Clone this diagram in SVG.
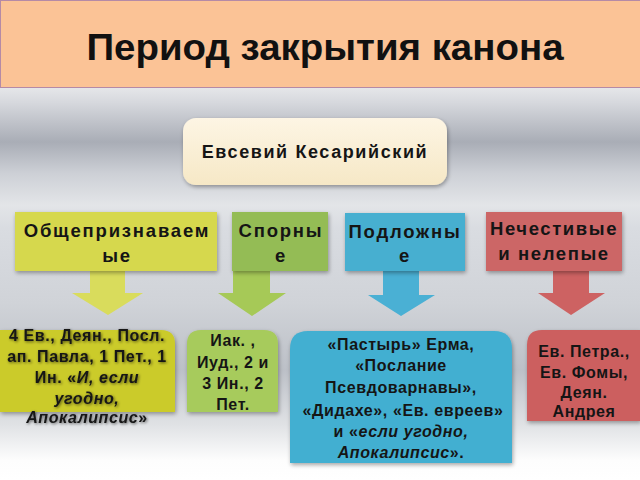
<svg xmlns="http://www.w3.org/2000/svg" width="640" height="480" viewBox="0 0 640 480">
<defs>
<linearGradient id="bg" x1="0" y1="87" x2="0" y2="480" gradientUnits="userSpaceOnUse">
<stop offset="0" stop-color="#e6e7ea"/>
<stop offset="0.04" stop-color="#d6d8dd"/>
<stop offset="0.14" stop-color="#a9adb6"/>
<stop offset="0.22" stop-color="#cdd0d6"/>
<stop offset="0.3" stop-color="#e3e5e8"/>
<stop offset="0.36" stop-color="#d9dce1"/>
<stop offset="0.55" stop-color="#d0d3d8"/>
<stop offset="0.72" stop-color="#bcc0c7"/>
<stop offset="0.86" stop-color="#e0e2e5"/>
<stop offset="0.95" stop-color="#fdfdfd"/>
<stop offset="1" stop-color="#ffffff"/>
</linearGradient>
<linearGradient id="cream" x1="0" y1="0" x2="0" y2="1">
<stop offset="0" stop-color="#fdf5e4"/>
<stop offset="1" stop-color="#f6e8c6"/>
</linearGradient>
<filter id="sh" x="-10%" y="-10%" width="120%" height="130%">
<feGaussianBlur in="SourceAlpha" stdDeviation="2"/>
<feOffset dx="1" dy="2"/>
<feComponentTransfer><feFuncA type="linear" slope="0.35"/></feComponentTransfer>
<feMerge><feMergeNode/><feMergeNode in="SourceGraphic"/></feMerge>
</filter>
<filter id="tg" x="-10%" y="-20%" width="120%" height="140%">
<feGaussianBlur in="SourceAlpha" stdDeviation="1.4"/>
<feOffset dx="1" dy="1"/>
<feComponentTransfer><feFuncA type="linear" slope="0.6"/></feComponentTransfer>
<feMerge><feMergeNode/><feMergeNode in="SourceGraphic"/></feMerge>
</filter>
<style>
text{font-family:"Liberation Sans",Arial,sans-serif;font-weight:bold;fill:#151515;text-anchor:middle}
.title{font-size:36px;fill:#111}
.cat{font-size:18.5px;letter-spacing:1.8px}
.b{font-size:16px;letter-spacing:0.6px}
.i{font-style:italic}
</style>
</defs>
<rect x="0" y="0" width="640" height="480" fill="url(#bg)"/>
<g id="title">
<rect x="0.5" y="0.5" width="640" height="87" fill="#fbc396" stroke="#b58aa6" stroke-width="1"/>
<text class="title" x="325" y="60" textLength="477" lengthAdjust="spacingAndGlyphs">Период закрытия канона</text>
</g>
<g id="connectors">
<polygon points="90,271 125,271 125,293 143,293 108,315 72,293 90,293" fill="#d9dc5c"/>
<polygon points="233,271 270,271 270,293 286,293 252,316 218,293 233,293" fill="#a6c957"/>
<polygon points="383,271 419,271 419,295 435,295 401,316 368,295 383,295" fill="#4ab0d4"/>
<polygon points="553,271 589,271 589,293 605,293 571,315 538,293 553,293" fill="#cd6262"/>
</g>
<g id="eusebius">
<rect x="183" y="118" width="264" height="67" rx="13" fill="url(#cream)" filter="url(#sh)"/>
<text x="315" y="158" style="font-size:18px;letter-spacing:1.6px">Евсевий Кесарийский</text>
</g>
<g id="cat1">
<rect x="15" y="212" width="202" height="59" fill="#d6d84e" filter="url(#sh)"/>
<text class="cat" x="117" y="237">Общепризнаваем</text>
<text class="cat" x="117" y="262">ые</text>
</g>
<g id="cat2">
<rect x="232" y="212" width="96" height="59" fill="#94bc54" filter="url(#sh)"/>
<text class="cat" x="281" y="237">Спорны</text>
<text class="cat" x="281" y="262">е</text>
</g>
<g id="cat3">
<rect x="345" y="213" width="120" height="58" fill="#46afd0" filter="url(#sh)"/>
<text class="cat" x="405" y="238">Подложны</text>
<text class="cat" x="405" y="262">е</text>
</g>
<g id="cat4">
<rect x="486" y="212" width="136" height="59" fill="#cc6666" filter="url(#sh)"/>
<text class="cat" x="554" y="235" style="letter-spacing:1.6px">Нечестивые</text>
<text class="cat" x="554" y="260" style="letter-spacing:1.6px">и нелепые</text>
</g>
<g id="box1">
<path d="M0,330 H161 Q175,330 175,344 V412 H0 Z" fill="#cbcb2a" filter="url(#sh)"/>
<g filter="url(#tg)">
<text class="b" x="87" y="341">4 Ев., Деян., Посл.</text>
<text class="b" x="87" y="362">ап. Павла, 1 Пет., 1</text>
<text class="b" x="87" y="383">Ин. «<tspan class="i">И, если</tspan></text>
<text class="b i" x="87" y="404">угодно,</text>
<text class="b" x="87" y="423"><tspan class="i">Апокалипсис</tspan>»</text>
</g>
</g>
<g id="box2">
<path d="M201,330 H264 Q278,330 278,344 V412 H187 V344 Q187,330 201,330 Z" fill="#a7cb5c" filter="url(#sh)"/>
<text class="b" x="233" y="346">Иак. ,</text>
<text class="b" x="233" y="368">Иуд., 2 и</text>
<text class="b" x="233" y="389">3 Ин., 2</text>
<text class="b" x="233" y="410">Пет.</text>
</g>
<g id="box3">
<path d="M308,331 H494 Q512,331 512,349 V463 H290 V349 Q290,331 308,331 Z" fill="#43afd1" filter="url(#sh)"/>
<text class="b" x="401" y="350">«Пастырь» Ерма,</text>
<text class="b" x="401" y="371">«Послание</text>
<text class="b" x="401" y="393">Псевдоварнавы»,</text>
<text class="b" x="403" y="416">«Дидахе», «Ев. евреев»</text>
<text class="b" x="401" y="437">и «<tspan class="i">если угодно,</tspan></text>
<text class="b" x="401" y="458"><tspan class="i">Апокалипсис</tspan>».</text>
</g>
<g id="box4">
<path d="M542,330 H640 V421 H527 V345 Q527,330 542,330 Z" fill="#cc5f5f" filter="url(#sh)"/>
<text class="b" x="584" y="357">Ев. Петра.,</text>
<text class="b" x="584" y="378">Ев. Фомы,</text>
<text class="b" x="584" y="398">Деян.</text>
<text class="b" x="584" y="417">Андрея</text>
</g>
</svg>
